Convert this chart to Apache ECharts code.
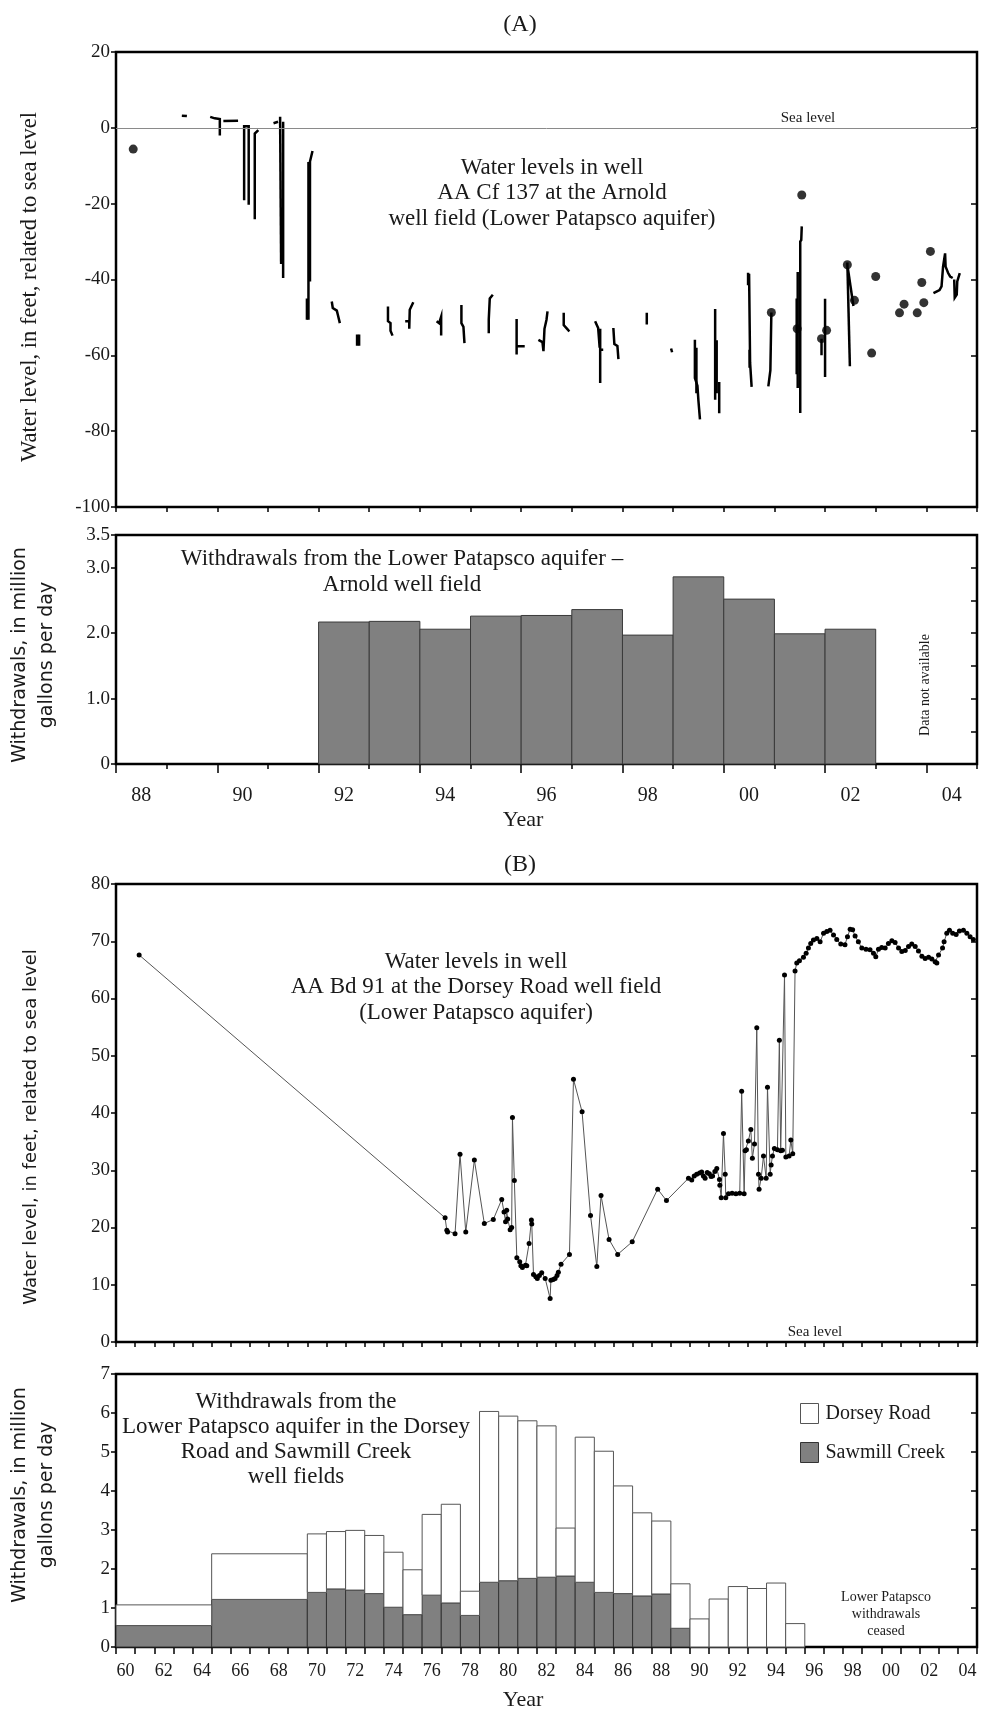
<!DOCTYPE html>
<html>
<head>
<meta charset="utf-8">
<script src="https://cdn.jsdelivr.net/npm/echarts@6/dist/echarts.min.js"></script>
<style>html,body{margin:0;padding:0;background:#fff}#c{width:982px;height:1714px}</style>
</head>
<body>
<div id="c"></div>
<script>
// ---------------- DATA ----------------
// (A) Well AA Cf 137, Arnold well field — continuous record pieces [year, level ft]
const arnoldRecords = [
  [[1989.30,3.2],[1989.40,3.1]],
  [[1989.86,2.9],[1989.95,2.5],[1990.05,2.3],[1990.05,-2.0]],
  [[1990.12,1.8],[1990.41,1.9]],
  [[1990.53,-19.1],[1990.53,0.4],[1990.62,0.4],[1990.62,-20.3]],
  [[1990.74,-24.1],[1990.74,-1.5],[1990.81,-0.6]],
  [[1991.11,1.2],[1991.20,1.6]],
  [[1991.24,2.9],[1991.26,-35.9]],
  [[1991.30,1.6],[1991.30,-39.6]],
  [[1991.88,-6.1],[1991.83,-8.9],[1991.83,-40.5]],
  [[1991.80,-9.0],[1991.80,-50.6]],
  [[1991.77,-45.0],[1991.77,-50.6]],
  [[1992.26,-45.8],[1992.28,-47.5],[1992.36,-48.2],[1992.38,-49.3],[1992.42,-51.5]],
  [[1992.76,-54.5],[1992.76,-57.5]],
  [[1992.80,-54.5],[1992.80,-57.5]],
  [[1993.37,-47.1],[1993.37,-51.0],[1993.42,-51.5],[1993.42,-53.5],[1993.46,-54.8]],
  [[1993.71,-51.0],[1993.79,-51.0],[1993.79,-53.0],[1993.80,-48.0],[1993.87,-46.0]],
  [[1994.33,-51.0],[1994.38,-51.5],[1994.42,-49.8],[1994.42,-54.8]],
  [[1994.82,-46.7],[1994.82,-51.5],[1994.86,-52.5],[1994.88,-56.8]],
  [[1995.36,-54.2],[1995.36,-50.5],[1995.38,-45.0],[1995.44,-44.0]],
  [[1995.91,-50.4],[1995.91,-59.8]],
  [[1995.91,-57.6],[1996.07,-57.6]],
  [[1996.34,-55.9],[1996.42,-56.5],[1996.44,-58.9],[1996.46,-53.0],[1996.50,-50.6],[1996.52,-48.4]],
  [[1996.84,-48.8],[1996.84,-52.0],[1996.92,-53.2],[1996.95,-53.7]],
  [[1997.46,-51.0],[1997.52,-52.8],[1997.55,-58.0]],
  [[1997.56,-53.0],[1997.56,-67.3]],
  [[1997.56,-58.5],[1997.62,-58.5]],
  [[1997.82,-52.8],[1997.84,-57.0],[1997.90,-57.5],[1997.92,-61.0]],
  [[1998.48,-48.8],[1998.48,-51.9]],
  [[1998.96,-58.2],[1998.98,-59.2]],
  [[1999.43,-55.9],[1999.43,-66.0],[1999.48,-68.0],[1999.50,-72.0],[1999.53,-76.9]],
  [[1999.46,-58.0],[1999.46,-70.0]],
  [[1999.83,-47.8],[1999.83,-71.7]],
  [[1999.86,-56.0],[1999.86,-70.0]],
  [[1999.91,-67.0],[1999.91,-75.3]],
  [[2000.48,-38.2],[2000.48,-41.5]],
  [[2000.50,-38.5],[2000.52,-62.0],[2000.55,-68.3]],
  [[2000.51,-58.5],[2000.51,-63.3]],
  [[2000.94,-48.7],[2000.92,-64.0],[2000.88,-68.2]],
  [[2001.54,-26.0],[2001.53,-29.6],[2001.51,-30.0],[2001.51,-75.2]],
  [[2001.46,-38.0],[2001.46,-68.6]],
  [[2001.44,-45.0],[2001.44,-65.0]],
  [[2002.00,-45.1],[2002.00,-65.7]],
  [[2001.93,-55.6],[2001.93,-60.0]],
  [[2002.44,-35.5],[2002.49,-62.9]],
  [[2002.45,-37.0],[2002.56,-47.0]],
  [[2004.14,-43.6],[2004.20,-43.2],[2004.26,-42.8],[2004.30,-41.8],[2004.33,-36.6],[2004.37,-33.1],[2004.38,-36.6],[2004.43,-38.3],[2004.47,-39.2],[2004.52,-39.6]],
  [[2004.55,-40.0],[2004.56,-44.8],[2004.60,-44.0],[2004.61,-40.5],[2004.66,-38.3]]
];
// (A) periodic (single) measurements
const arnoldSpotYears  = [1988.34,2000.94,2001.54,2001.45,2002.03,2001.93,2002.44,2002.58,2003.00,2002.92,2003.47,2003.56,2003.82,2003.91,2003.95,2004.08];
const arnoldSpotLevels = [-5.6,-48.7,-17.7,-53.0,-53.4,-55.6,-36.1,-45.5,-39.2,-59.4,-48.8,-46.5,-48.8,-40.8,-46.1,-32.6];
const seaLevel = 0;

// (A) withdrawals, Arnold well field (Mgal/d)
const arnoldYears = [1992,1993,1994,1995,1996,1997,1998,1999,2000,2001,2002];
const arnoldWithdrawals = [2.17,2.18,2.06,2.26,2.27,2.36,1.97,2.86,2.52,1.99,2.06];

// (B) Well AA Bd 91, Dorsey Road well field
const dorseyWellYears = [1961.21,1977.20,1977.29,1977.33,1977.72,1977.98,1978.28,1978.73,1979.25,1979.72,1980.16,1980.28,1980.36,1980.42,1980.47,1980.60,1980.68,1980.72,1980.82,1980.95,1981.10,1981.16,1981.24,1981.40,1981.47,1981.59,1981.71,1981.73,1981.82,1981.94,1982.02,1982.13,1982.25,1982.43,1982.69,1982.73,1982.85,1982.95,1983.05,1983.12,1983.26,1983.70,1983.91,1984.36,1984.80,1985.13,1985.35,1985.77,1986.22,1986.98,1988.31,1988.77,1989.92,1990.09,1990.22,1990.35,1990.50,1990.61,1990.70,1990.79,1990.90,1991.01,1991.10,1991.18,1991.30,1991.40,1991.54,1991.56,1991.63,1991.75,1991.84,1991.87,1992.01,1992.20,1992.40,1992.60,1992.70,1992.83,1992.88,1992.95,1993.05,1993.18,1993.26,1993.37,1993.49,1993.58,1993.61,1993.72,1993.84,1993.98,1994.05,1994.19,1994.24,1994.31,1994.41,1994.57,1994.67,1994.74,1994.83,1994.94,1995.01,1995.18,1995.27,1995.37,1995.49,1995.58,1995.72,1995.93,1996.07,1996.19,1996.31,1996.45,1996.63,1996.80,1996.98,1997.15,1997.32,1997.50,1997.67,1997.88,1998.10,1998.23,1998.37,1998.50,1998.63,1998.80,1998.98,1999.20,1999.41,1999.59,1999.71,1999.85,2000.02,2000.20,2000.37,2000.55,2000.72,2000.90,2001.07,2001.25,2001.42,2001.59,2001.77,2001.94,2002.12,2002.29,2002.47,2002.64,2002.81,2002.90,2002.99,2003.20,2003.28,2003.42,2003.56,2003.73,2003.91,2004.08,2004.29,2004.47,2004.64,2004.81];
const dorseyWellLevels = [67.6,21.7,19.5,19.2,18.9,32.8,19.2,31.8,20.7,21.4,24.9,22.7,21.0,23.0,21.5,19.6,20.0,39.2,28.2,14.7,14.0,13.3,13.0,13.4,13.3,17.2,21.3,20.6,11.8,11.4,11.1,11.6,12.1,11.1,7.6,10.8,10.9,11.1,11.6,12.2,13.6,15.3,45.9,40.2,22.1,13.2,25.6,17.9,15.3,17.5,26.7,24.7,28.6,28.3,29.0,29.3,29.5,29.7,29.0,28.6,29.6,29.4,28.9,29.0,29.8,30.3,28.4,27.4,25.2,36.4,29.3,25.2,25.9,26.0,25.9,26.0,43.8,25.9,33.4,33.6,35.1,37.1,32.1,34.6,54.9,29.3,26.7,28.6,32.5,28.6,44.5,29.3,30.9,32.5,33.8,33.6,52.7,33.4,33.5,64.1,32.3,32.5,35.3,32.9,64.8,66.2,66.6,67.2,67.9,68.8,69.6,70.2,70.5,69.9,71.4,71.7,71.9,71.1,70.3,69.5,69.4,70.8,72.1,72.0,70.9,69.9,68.8,68.6,68.5,67.9,67.3,68.6,68.9,68.8,69.6,70.1,69.8,68.8,68.2,68.4,69.1,69.5,69.1,68.3,67.4,67.0,67.2,66.9,66.4,66.2,67.6,68.8,69.9,71.4,71.9,71.4,71.2,71.8,71.9,71.4,70.8,70.3];

// (B) withdrawals, Dorsey Road and Sawmill Creek (Mgal/d), by period
const periodStart = [1960,1965,1970,1971,1972,1973,1974,1975,1976,1977,1978,1979,1980,1981,1982,1983,1984,1985,1986,1987,1988,1989,1990,1991,1992,1993,1994,1995];
const periodEnd   = [1965,1970,1971,1972,1973,1974,1975,1976,1977,1978,1979,1980,1981,1982,1983,1984,1985,1986,1987,1988,1989,1990,1991,1992,1993,1994,1995,1996];
const sawmillCreek = [0.55,1.22,1.40,1.49,1.46,1.37,1.02,0.83,1.33,1.13,0.81,1.66,1.70,1.76,1.79,1.82,1.66,1.40,1.37,1.31,1.36,0.48,0,0,0,0,0,0];
const dorseyRoad   = [0.53,1.17,1.50,1.47,1.53,1.49,1.41,1.15,2.07,2.53,0.62,4.38,4.22,4.04,3.88,1.23,3.72,3.62,2.76,2.13,1.87,1.14,0.72,1.23,1.55,1.50,1.64,0.60];

// tick labels
const arnoldLabelYears = [1988,1990,1992,1994,1996,1998,2000,2002,2004];
const dorseyLabelYears = [1960,1962,1964,1966,1968,1970,1972,1974,1976,1978,1980,1982,1984,1986,1988,1990,1992,1994,1996,1998,2000,2002,2004];
const arnoldLevelTicks = [-100,-80,-60,-40,-20,0,20];
const arnoldWithdrawalLabels = [0,1,2,3,3.5];
const dorseyLevelTicks = [0,10,20,30,40,50,60,70,80];
const dorseyWithdrawalTicks = [0,1,2,3,4,5,6,7];

// ---------------- CHART ----------------
const serif = "'Liberation Serif','Times New Roman',serif";
const sans = "'DejaVu Sans',Verdana,sans-serif";
const ink = '#1a1a1a';
function range(a, b) { const r = []; for (let v = a; v <= b; v++) r.push(v); return r; }
const yy = v => String(Math.floor(v) % 100).padStart(2, '0');

const grids = [
  {left:116, top:52,   width:861, height:455},
  {left:116, top:535,  width:861, height:229},
  {left:116, top:884,  width:861, height:458},
  {left:116, top:1374, width:861, height:273}
].map(g => Object.assign(g, {show:true, borderColor:'#000', borderWidth:2.5, backgroundColor:'rgba(0,0,0,0)'}));

function xAx(gridIndex, min, max, tickVals, tickLen, labelYears, margin, fontSize, showLine) {
  return {
    gridIndex, type:'value', min, max, position:'bottom',
    axisLine:{show: showLine !== false, onZero:false, lineStyle:{color:'#000', width:2}},
    axisTick:{show:true, inside:false, customValues:tickVals, length:tickLen, lineStyle:{color:'#000', width:1.5}},
    axisLabel: labelYears ? {show:true, customValues:labelYears.map(y => y + 0.5), formatter:yy, margin, fontSize, fontFamily:serif, color:ink} : {show:false},
    splitLine:{show:false}
  };
}
function yAx(gridIndex, min, max, interval, labelVals, fmt, tickVals) {
  return {
    gridIndex, type:'value', min, max, interval, position:'left',
    axisLine:{show:true, onZero:false, lineStyle:{color:'#000', width:2}},
    axisTick:{show:true, inside:false, length:5, customValues:tickVals || labelVals, lineStyle:{color:'#000', width:1.5}},
    axisLabel:{show:true, customValues:labelVals, formatter:fmt, fontSize:19, fontFamily:serif, color:ink, margin:6},
    splitLine:{show:false}
  };
}
function yRight(gridIndex, min, max, interval) {
  return {
    gridIndex, type:'value', min, max, interval, position:'right',
    axisLine:{show:false, onZero:false}, axisTick:{show:true, inside:true, length:6, lineStyle:{color:'#000', width:1.5}},
    axisLabel:{show:false}, splitLine:{show:false}
  };
}

function barRender(fill, stroke) {
  return function (params, api) {
    const x0 = api.value(0), x1 = api.value(1), y0 = api.value(2), y1 = api.value(3);
    const p0 = api.coord([x0, y1]), p1 = api.coord([x1, y0]);
    return {type:'rect', shape:{x:p0[0], y:p0[1], width:p1[0]-p0[0], height:p1[1]-p0[1]},
            style:{fill, stroke, lineWidth:1}};
  };
}

function txt(x, y, text, font, extra) {
  return Object.assign({type:'text', x, y, silent:true, z:100,
    style:Object.assign({text, font, fill:ink, align:'center', verticalAlign:'middle', textAlign:'center', textVerticalAlign:'middle'}, extra || {})});
}
function rtxt(x, y, text, font, lh) {
  return {type:'text', x, y, rotation:Math.PI/2, silent:true, z:100,
    style:{text, font, fill:ink, align:'center', verticalAlign:'middle', textAlign:'center', textVerticalAlign:'middle', lineHeight:lh || 20}};
}

const option = {
  animation:false,
  backgroundColor:'#fff',
  grid: grids,
  xAxis: [
    xAx(0, 1988, 2005, range(1988, 2005), 5),
    xAx(1, 1988, 2005, range(1988, 2005), 5, arnoldLabelYears, 22, 20),
    xAx(1, 1988, 2005, arnoldLabelYears, 9, null, 0, 0, false),
    xAx(2, 1960, 2005, range(1960, 2005), 5),
    xAx(3, 1960, 2005, range(1960, 2005), 7, dorseyLabelYears, 15, 18)
  ],
  yAxis: [
    yAx(0, -100, 20, 20, arnoldLevelTicks, v => String(v)),
    yRight(0, -100, 20, 20),
    yAx(1, 0, 3.5, 0.5, arnoldWithdrawalLabels, v => v === 0 ? '0' : v.toFixed(1)),
    yRight(1, 0, 3.5, 0.5),
    yAx(2, 0, 80, 10, dorseyLevelTicks, v => String(v)),
    yRight(2, 0, 80, 10),
    yAx(3, 0, 7, 1, dorseyWithdrawalTicks, v => String(v)),
    yRight(3, 0, 7, 1)
  ],
  legend: {
    orient:'vertical', left:795, top:1398, itemWidth:18, itemHeight:20, itemGap:18, icon:'rect',
    textStyle:{fontFamily:serif, fontSize:20, color:ink, padding:[0,0,0,2]},
    data:[
      {name:'Dorsey Road', itemStyle:{color:'#fff', borderColor:'#555', borderWidth:1}},
      {name:'Sawmill Creek', itemStyle:{color:'#808080', borderColor:'#333', borderWidth:1}}
    ]
  },
  series: [
    {
      type:'lines', coordinateSystem:'cartesian2d', xAxisIndex:0, yAxisIndex:0, polyline:true, silent:true, z:3,
      data: arnoldRecords.map(r => ({coords:r})),
      lineStyle:{color:'#000', width:2.5, opacity:1}
    },
    {
      type:'scatter', xAxisIndex:0, yAxisIndex:0, symbolSize:9, z:4,
      itemStyle:{color:'#000'},
      data: arnoldSpotYears.map((x, i) => [x, arnoldSpotLevels[i]]),
      markLine:{silent:true, symbol:['none','none'], label:{show:false},
        lineStyle:{color:'#8a8a8a', width:1, type:'solid'}, data:[{yAxis:seaLevel}]}
    },
    {
      type:'custom', xAxisIndex:1, yAxisIndex:2,
      renderItem: barRender('#808080', '#3a3a3a'),
      encode:{x:[0,1], y:[2,3]},
      data: arnoldYears.map((y, i) => [y, y + 1, 0, arnoldWithdrawals[i]])
    },
    {
      type:'line', xAxisIndex:3, yAxisIndex:4, symbol:'circle', symbolSize:5, showAllSymbol:true,
      itemStyle:{color:'#000'}, lineStyle:{color:'#555', width:1},
      data: dorseyWellYears.map((x, i) => [x, dorseyWellLevels[i]])
    },
    {
      name:'Sawmill Creek', type:'custom', xAxisIndex:4, yAxisIndex:6,
      itemStyle:{color:'#808080', borderColor:'#333'},
      renderItem: barRender('#808080', '#333'),
      encode:{x:[0,1], y:[2,3]},
      data: periodStart.map((s, i) => [s, periodEnd[i], 0, sawmillCreek[i]])
    },
    {
      name:'Dorsey Road', type:'custom', xAxisIndex:4, yAxisIndex:6,
      itemStyle:{color:'#fff', borderColor:'#555'},
      renderItem: barRender('#ffffff', '#555'),
      encode:{x:[0,1], y:[2,3]},
      data: periodStart.map((s, i) => [s, periodEnd[i], sawmillCreek[i], sawmillCreek[i] + dorseyRoad[i]])
    }
  ],
  graphic: [
    txt(520, 25, '(A)', '24px ' + serif),
    txt(520, 865, '(B)', '24px ' + serif),
    txt(552, 193, 'Water levels in well\nAA Cf 137 at the Arnold\nwell field (Lower Patapsco aquifer)', '23px ' + serif, {lineHeight:25.5}),
    txt(808, 118, 'Sea level', '15px ' + serif),
    txt(402, 572, 'Withdrawals from the Lower Patapsco aquifer \u2013\nArnold well field', '23px ' + serif, {lineHeight:26}),
    rtxt(925, 685, 'Data not available', '14px ' + serif),
    txt(523, 820, 'Year', '22px ' + serif),
    txt(476, 987, 'Water levels in well\nAA Bd 91 at the Dorsey Road well field\n(Lower Patapsco aquifer)', '23px ' + serif, {lineHeight:25.5}),
    txt(815, 1332, 'Sea level', '15px ' + serif),
    txt(296, 1439, 'Withdrawals from the\nLower Patapsco aquifer in the Dorsey\nRoad and Sawmill Creek\nwell fields', '23px ' + serif, {lineHeight:25}),
    txt(886, 1614, 'Lower Patapsco\nwithdrawals\nceased', '14px ' + serif, {lineHeight:17}),
    txt(523, 1700, 'Year', '22px ' + serif),
    rtxt(30, 287, 'Water level, in feet, related to sea level', '22.5px ' + serif),
    rtxt(34, 655, 'Withdrawals, in million\ngallons per day', '19px ' + sans, 27),
    rtxt(31, 1127, 'Water level, in feet, related to sea level', '18px ' + sans),
    rtxt(34, 1495, 'Withdrawals, in million\ngallons per day', '19px ' + sans, 27)
  ]
};

const chart = echarts.init(document.getElementById('c'), null, {renderer:'canvas'});
chart.setOption(option);
</script>
</body>
</html>
